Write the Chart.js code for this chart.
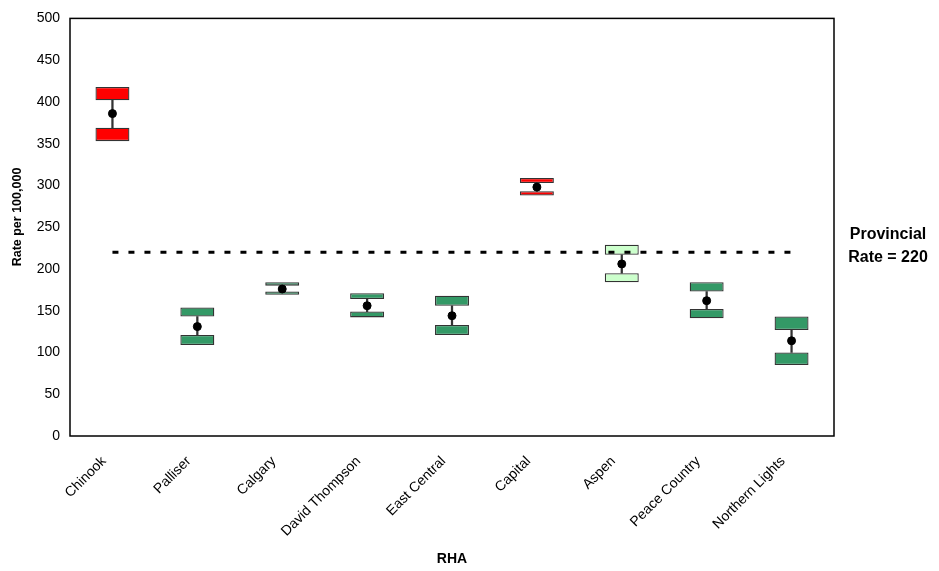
<!DOCTYPE html>
<html>
<head>
<meta charset="utf-8">
<script src="https://cdn.jsdelivr.net/npm/chart.js@4/dist/chart.umd.min.js"></script>
<style>
  html, body { margin: 0; padding: 0; background: #fff; }
  #wrap { width: 939px; height: 571px; }
</style>
</head>
<body>
<div id="wrap"><canvas id="chart" width="939" height="571"></canvas></div>
<script>
// data
const categories = ["Chinook", "Palliser", "Calgary", "David Thompson", "East Central", "Capital", "Aspen", "Peace Country", "Northern Lights"];
const rates = [386, 131, 176, 156, 144, 298, 206, 162, 114];
const upperBoxTop = [418, 154, 184, 171, 168, 309, 229, 184, 143];
const upperBoxBottom = [402, 143, 180, 164, 156, 303, 217, 173, 127];
const lowerBoxTop = [369, 121, 173, 149, 133, 293, 195, 152, 100];
const lowerBoxBottom = [353, 109, 169, 142, 121, 288, 184, 141, 85];
const significance = ["high", "low", "low", "low", "low", "high", "same", "low", "low"];
const provincialRate = 220;
const yTicks = [0, 50, 100, 150, 200, 250, 300, 350, 400, 450, 500];

const sigColors = { high: "#ff0000", low: "#339966", same: "#ccffcc" };
const boxColors = significance.map(s => sigColors[s]);
const FONT = "'Liberation Sans', Arial, sans-serif";

// frame, rotated category labels, y title and provincial label
const framePlugin = {
  id: "frame",
  afterDraw(chart) {
    const { ctx, chartArea: a, scales } = chart;
    ctx.save();
    ctx.strokeStyle = "#000";
    ctx.lineWidth = 1.5;
    ctx.strokeRect(a.left, a.top, a.right - a.left, a.bottom - a.top);

    ctx.fillStyle = "#000";

    // category labels at 45 degrees
    ctx.font = "14px " + FONT;
    ctx.textAlign = "right";
    ctx.textBaseline = "middle";
    categories.forEach((c, i) => {
      const x = scales.x.getPixelForValue(i);
      ctx.save();
      ctx.translate(x - 8.5, a.bottom + 23);
      ctx.rotate(-Math.PI / 4);
      ctx.fillText(c, 0, 0);
      ctx.restore();
    });

    // y axis title
    ctx.font = "bold 12.5px " + FONT;
    ctx.textAlign = "center";
    ctx.save();
    ctx.translate(18, 217);
    ctx.rotate(-Math.PI / 2);
    ctx.fillText("Rate per 100,000", 0, 0);
    ctx.restore();

    // provincial rate label
    const yLine = scales.y.getPixelForValue(provincialRate);
    ctx.font = "bold 16px " + FONT;
    ctx.fillText("Provincial", a.right + 54, yLine - 18);
    ctx.fillText("Rate = " + provincialRate, a.right + 54, yLine + 5);
    ctx.restore();
  }
};

const boxStyle = {
  type: "bar",
  backgroundColor: boxColors,
  borderColor: "#333",
  borderWidth: 1.3,
  borderSkipped: false,
  inflateAmount: 0,
  barPercentage: 0.4,
  categoryPercentage: 1,
  grouped: false,
  order: 3
};

new Chart(document.getElementById("chart"), {
  data: {
    labels: categories,
    datasets: [
      {
        type: "line",
        label: "Rate",
        data: rates,
        showLine: false,
        pointRadius: 4,
        pointBackgroundColor: "#000",
        pointBorderColor: "#000",
        order: 0
      },
      {
        type: "line",
        label: "Provincial",
        data: categories.map(() => provincialRate),
        borderColor: "#000",
        borderWidth: 3,
        borderDash: [6, 10],
        pointRadius: 0,
        fill: false,
        order: 1
      },
      {
        type: "bar",
        label: "CI",
        data: categories.map((c, i) => [lowerBoxTop[i], upperBoxBottom[i]]),
        backgroundColor: "#333",
        borderWidth: 0,
        barThickness: 1.6,
        grouped: false,
        order: 2
      },
      Object.assign({ label: "Upper", data: categories.map((c, i) => [upperBoxBottom[i], upperBoxTop[i]]) }, boxStyle),
      Object.assign({ label: "Lower", data: categories.map((c, i) => [lowerBoxBottom[i], lowerBoxTop[i]]) }, boxStyle)
    ]
  },
  options: {
    responsive: false,
    animation: false,
    layout: { padding: { top: 16, right: 105, left: 0, bottom: 0 } },
    plugins: {
      legend: { display: false },
      tooltip: { enabled: false }
    },
    scales: {
      x: {
        grid: { display: false, drawTicks: false },
        border: { display: false },
        ticks: { display: false },
        title: {
          display: true,
          text: "RHA",
          color: "#000",
          font: { family: FONT, size: 14, weight: "bold" },
          padding: { top: 4, bottom: 3 }
        },
        afterFit(scale) { scale.height = 135; }
      },
      y: {
        min: 0,
        max: 500,
        grid: { display: false, drawTicks: false },
        border: { display: false },
        afterBuildTicks(scale) { scale.ticks = yTicks.map(v => ({ value: v })); },
        ticks: {
          color: "#000",
          font: { family: FONT, size: 14 },
          padding: 10
        },
        afterFit(scale) { scale.width = 70; }
      }
    }
  },
  plugins: [framePlugin]
});
</script>
</body>
</html>
